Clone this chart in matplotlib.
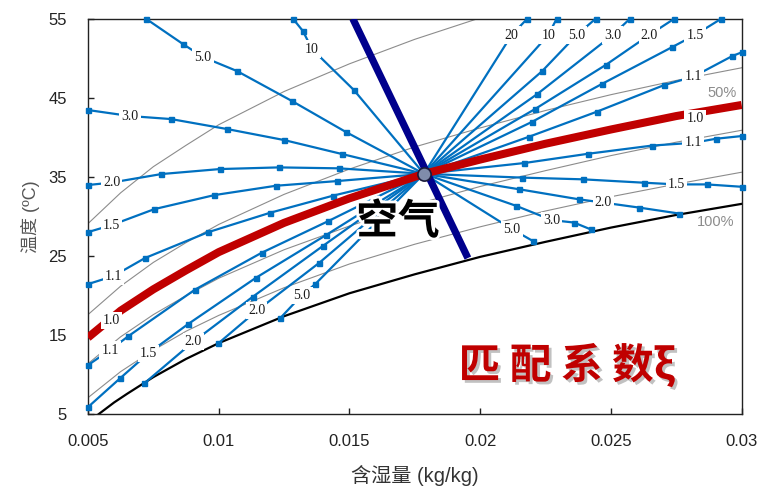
import matplotlib.pyplot as plt
import matplotlib.patheffects as pe

# Axis ticks
x_ticks = [0.005, 0.01, 0.015, 0.02, 0.025, 0.03]
x_tick_labels = ["0.005", "0.01", "0.015", "0.02", "0.025", "0.03"]
y_ticks = [5, 15, 25, 35, 45, 55]

# Air state point
air_x, air_t = 0.01785, 35.4

# Relative humidity curves (grey), temperatures read at fixed moisture contents
rh_x = [0.005, 0.00625, 0.0075, 0.00875, 0.01, 0.0125, 0.015, 0.0175, 0.02, 0.0225,
        0.025, 0.0275, 0.03]
rh40_t = [17.6, 21.2, 24.2, 26.7, 29.0, 32.8, 36.0, 38.8, 41.2, 43.4, 45.4, 47.2, 48.8]
rh60_t = [11.4, 14.8, 17.6, 20.0, 22.2, 25.8, 28.8, 31.5, 33.8, 35.8, 37.7, 39.4, 40.9]
rh80_t = [7.1, 10.4, 13.1, 15.5, 17.5, 21.0, 24.0, 26.5, 28.7, 30.7, 32.5, 34.1, 35.6]
rh20_x = [0.005, 0.00625, 0.0075, 0.00875, 0.01, 0.0125, 0.015, 0.0175, 0.0199]
rh20_t = [29.1, 33.0, 36.3, 39.0, 41.6, 45.8, 49.3, 52.4, 55.0]

# Saturation curve (100%)
sat_x = [0.0054, 0.006, 0.0065, 0.0075, 0.00875, 0.01, 0.0125, 0.015, 0.0175, 0.02,
         0.0225, 0.025, 0.0275, 0.03]
sat_t = [5.0, 6.5, 7.6, 9.7, 12.0, 14.0, 17.4, 20.3, 22.7, 24.9, 26.8, 28.6, 30.2, 31.6]

# xi = 1.0 line (red)
red_x = [0.005, 0.00625, 0.0075, 0.00875, 0.01, 0.0125, 0.015, air_x, 0.02, 0.0225,
         0.025, 0.0275, 0.03]
red_t = [14.7, 18.1, 20.8, 23.2, 25.5, 29.2, 32.3, air_t, 37.2, 39.2, 41.0, 42.7, 44.1]
red_label_x = [0.005906, 0.028214]
red_label_t = [16.91, 42.41]

# Wet bulb line (navy)
wb_x = [0.01513, 0.01953]
wb_t = [55.0, 24.75]

# Matching coefficient lines: points from the outer end towards the air point,
# one point in each line is where the label sits
xi_labels = ["10", "5.0", "3.0", "2.0", "1.5", "1.1", "1.1", "1.5", "2.0", "2.0", "5.0",
             "5.0", "3.0", "2.0", "1.5", "1.1", "1.1", "1.5", "2.0", "3.0", "5.0", "10", "20"]
xi_x = [
    [0.01284, 0.01322, 0.013567, 0.01517],
    [0.007218, 0.008633, 0.009398, 0.010698, 0.012802, 0.014867],
    [0.005, 0.006606, 0.008174, 0.010316, 0.012496, 0.014714],
    [0.005, 0.0059, 0.007811, 0.010048, 0.012305, 0.014599],
    [0.005, 0.005906, 0.007543, 0.009838, 0.01219, 0.014523],
    [0.005, 0.00597, 0.00718, 0.009578, 0.01196, 0.014389],
    [0.005, 0.00584, 0.006549, 0.009092, 0.011643, 0.01419],
    [0.005, 0.006224, 0.007306, 0.008813, 0.011425, 0.014102],
    [0.007153, 0.009027, 0.011299, 0.013976],
    [0.009983, 0.011452, 0.013846],
    [0.012343, 0.013184, 0.013681],
    [0.022018, 0.021215],
    [0.024225, 0.023587, 0.022734, 0.021368],
    [0.027621, 0.02608, 0.024707, 0.023789, 0.021483],
    [0.03, 0.028662, 0.027514, 0.026283, 0.023938, 0.021586],
    [0.03, 0.029017, 0.028149, 0.026581, 0.024122, 0.021686],
    [0.03, 0.02964, 0.028149, 0.02704, 0.024455, 0.021865],
    [0.02922, 0.028214, 0.027323, 0.024646, 0.021992],
    [0.027422, 0.026466, 0.024799, 0.022095],
    [0.025728, 0.025066, 0.022183],
    [0.024416, 0.02369, 0.022374],
    [0.022925, 0.022604],
    [0.0218, 0.021204],
]
xi_t = [
    [55.0, 53.45, 51.17, 45.99],
    [55.0, 51.8, 50.16, 48.39, 44.6, 40.68],
    [43.46, 42.7, 42.32, 41.06, 39.67, 37.9],
    [33.98, 34.29, 35.37, 36.0, 36.21, 36.09],
    [28.03, 28.92, 30.94, 32.71, 33.89, 34.48],
    [21.46, 22.47, 24.75, 28.0, 30.47, 32.65],
    [11.22, 13.12, 14.89, 20.76, 25.42, 29.42],
    [5.91, 9.54, 12.7, 16.37, 22.26, 27.65],
    [8.91, 14.17, 19.85, 26.26],
    [13.96, 18.08, 24.15],
    [17.12, 20.07, 21.42],
    [26.9, 28.41],
    [28.38, 29.24, 29.55, 31.36],
    [30.37, 31.13, 31.76, 32.17, 33.45],
    [33.76, 34.06, 34.06, 34.27, 34.7, 34.92],
    [40.17, 39.83, 39.32, 38.97, 37.93, 36.76],
    [50.75, 50.28, 47.67, 46.62, 43.24, 40.08],
    [55.0, 52.94, 51.38, 46.74, 41.98],
    [55.0, 52.94, 49.15, 43.58],
    [55.0, 52.94, 45.48],
    [55.0, 52.94, 48.39],
    [55.0, 52.94],
    [55.0, 52.94],
]
xi_label_idx = [2, 2, 1, 1, 1, 1, 1, 2, 1, 1, 1, 1, 2, 2, 2, 2, 2, 1, 1, 1, 1, 1, 1]

# Colours
blue = "#0070c0"
red = "#c00000"
navy = "#00008c"
grey = "#8c8c8c"

fig = plt.figure(figsize=(7.63, 4.93), dpi=100)
ax = fig.add_axes([0.1153, 0.1596, 0.8567, 0.8024])
ax.set_xlim(0.005, 0.03)
ax.set_ylim(5, 55)

# RH curves and saturation curve
for xs, ts in [(rh_x, rh40_t), (rh_x, rh60_t), (rh_x, rh80_t), (rh20_x, rh20_t)]:
    ax.plot(xs, ts, color=grey, linewidth=0.8, zorder=1)
ax.plot(sat_x, sat_t, color="black", linewidth=1.6, zorder=2)

# Matching coefficient lines
label_style = dict(ha="center", va="center", fontsize=10, family="Liberation Serif",
                   color="#1a1a1a", zorder=7,
                   bbox=dict(boxstyle="square,pad=0.15", fc="white", ec="none"))
for text, xs, ts, li in zip(xi_labels, xi_x, xi_t, xi_label_idx):
    xs_full = xs + [air_x]
    ts_full = ts + [air_t]
    marks = [i for i in range(len(xs)) if i != li]
    ax.plot(xs_full, ts_full, color=blue, linewidth=1.6, marker="s", markersize=3.6,
            markevery=marks, clip_on=False, zorder=3)
    ax.text(xs[li], ts[li], text, **label_style)

# xi = 1.0 and wet bulb line
ax.plot(red_x, red_t, color=red, linewidth=5.8, solid_capstyle="butt", zorder=4)
for lx, lt in zip(red_label_x, red_label_t):
    ax.text(lx, lt, "1.0", **label_style)
ax.plot(wb_x, wb_t, color=navy, linewidth=5.2, solid_capstyle="butt", zorder=5)

# Air state point
ax.plot(air_x, air_t, "o", markersize=9.5, markerfacecolor="#7f8cab",
        markeredgecolor="#1a1a3a", markeredgewidth=1.2, zorder=8)

# Annotations
ax.text(0.029246, 45.6, "50%", ha="center", va="center", fontsize=10.5,
        family="Liberation Sans", color="#8c8c8c", zorder=6)
ax.text(0.029017, 29.34, "100%", ha="center", va="center", fontsize=10.5,
        family="Liberation Sans", color="#8c8c8c", zorder=6)
ax.text(0.016855, 29.3, "空气", ha="center", va="center", fontsize=30,
        fontweight="bold", family=["Noto Sans CJK SC"], color="black", zorder=9,
        path_effects=[pe.withStroke(linewidth=4, foreground="white")])
ax.text(0.02332, 11.22, "匹 配 系 数ξ", ha="center", va="center", fontsize=30,
        fontweight="heavy", family=["Noto Sans CJK SC", "DejaVu Sans"], color=red,
        zorder=9,
        path_effects=[pe.SimplePatchShadow(offset=(2, -2), shadow_rgbFace="#999999",
                                           alpha=0.6), pe.Normal()])

# Axes formatting
ax.set_xticks(x_ticks)
ax.set_xticklabels(x_tick_labels)
ax.set_yticks(y_ticks)
ax.tick_params(direction="in", length=4, width=1, labelsize=12, colors="#222222")
ax.tick_params(axis="x", pad=14)
ax.tick_params(axis="y", pad=15)
for lab in ax.get_xticklabels() + ax.get_yticklabels():
    lab.set_family("Liberation Sans")
for side in ax.spines.values():
    side.set_linewidth(1.0)
    side.set_color("#222222")

ax.set_xlabel("含湿量 (kg/kg)", fontsize=14.5, family=["Liberation Sans", "Noto Sans CJK SC"],
              color="#333333", labelpad=12)
ax.set_ylabel("温度 (ºC)", fontsize=13, family=["Liberation Sans", "Noto Sans CJK SC"],
              color="#555555", labelpad=6)

fig.savefig("out.png", dpi=100)
